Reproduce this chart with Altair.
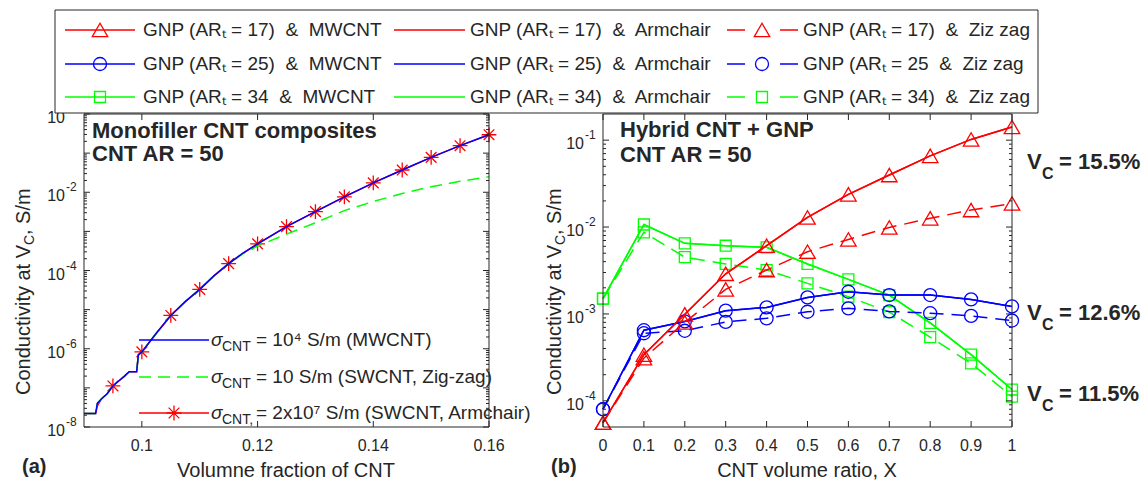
import altair as alt
import pandas as pd

FONT = "Liberation Sans"
INK = "#262626"
RED, BLUE, GREEN = "#ff0000", "#0000ff", "#00ff00"
ASTERISK = "M-1,0L1,0M0,-1L0,1M-0.72,-0.72L0.72,0.72M-0.72,0.72L0.72,-0.72"

# ---------------- panel (a): monofiller CNT composites ----------------
vf = [0.0900, 0.0920, 0.0923, 0.0930, 0.0940, 0.0950, 0.0960, 0.0970, 0.0978,
      0.0991, 0.0994, 0.1000, 0.1025, 0.1050, 0.1075, 0.1100, 0.1125, 0.1150,
      0.1175, 0.1200, 0.1250, 0.1300, 0.1350, 0.1400, 0.1450, 0.1500, 0.1550, 0.1600]
sig_mwcnt = [2.2e-8, 2.2e-8, 4.0e-8, 5.2e-8, 7.1e-8, 1.12e-7, 1.5e-7, 2.0e-7, 2.6e-7,
             2.6e-7, 7.1e-7, 8.3e-7, 2.5e-6, 7.1e-6, 1.6e-5, 3.3e-5, 7.4e-5, 1.5e-4,
             2.8e-4, 4.8e-4, 1.32e-3, 3.2e-3, 7.6e-3, 1.74e-2, 3.7e-2, 7.8e-2, 0.155, 0.295]
sig_armchair = [2.2e-8, 2.2e-8, 3.4e-8, 5.2e-8, 7.1e-8, 1.12e-7, 1.5e-7, 2.0e-7, 2.6e-7,
                2.6e-7, 7.1e-7, 8.3e-7, 2.5e-6, 7.1e-6, 1.6e-5, 3.3e-5, 7.4e-5, 1.5e-4,
                2.8e-4, 4.8e-4, 1.32e-3, 3.2e-3, 7.6e-3, 1.74e-2, 3.7e-2, 7.8e-2, 0.155, 0.295]
sig_zigzag = [2.2e-8, 2.2e-8, 4.0e-8, 5.2e-8, 7.1e-8, 1.12e-7, 1.5e-7, 2.0e-7, 2.6e-7,
              2.6e-7, 7.1e-7, 8.3e-7, 2.5e-6, 7.1e-6, 1.6e-5, 3.3e-5, 7.4e-5, 1.5e-4,
              2.7e-4, 4.2e-4, 8.5e-4, 1.66e-3, 3.4e-3, 5.8e-3, 9.3e-3, 1.38e-2, 1.9e-2, 2.5e-2]
vf_star = [0.095, 0.100, 0.105, 0.110, 0.115, 0.120, 0.125,
           0.130, 0.135, 0.140, 0.145, 0.150, 0.155, 0.160]

# ---------------- panel (b): hybrid CNT + GNP ----------------
x_ratio = [0.0, 0.1, 0.2, 0.3, 0.4, 0.5, 0.6, 0.7, 0.8, 0.9, 1.0]
g17_mwcnt = [5.6e-5, 3.4e-4, 9.9e-4, 2.9e-3, 6.1e-3, 1.29e-2, 2.38e-2, 3.97e-2, 6.6e-2, 1.02e-1, 1.42e-1]
g17_armchair = [5.6e-5, 3.4e-4, 9.9e-4, 2.9e-3, 6.1e-3, 1.29e-2, 2.38e-2, 3.97e-2, 6.6e-2, 1.02e-1, 1.42e-1]
g17_zigzag = [5.6e-5, 3.1e-4, 8.0e-4, 1.92e-3, 3.2e-3, 5.2e-3, 7.2e-3, 9.9e-3, 1.26e-2, 1.57e-2, 1.87e-2]
g25_mwcnt = [8.0e-5, 6.5e-4, 8.2e-4, 1.09e-3, 1.19e-3, 1.55e-3, 1.8e-3, 1.65e-3, 1.65e-3, 1.47e-3, 1.22e-3]
g25_armchair = [8.0e-5, 6.5e-4, 8.2e-4, 1.09e-3, 1.19e-3, 1.55e-3, 1.8e-3, 1.65e-3, 1.65e-3, 1.47e-3, 1.22e-3]
g25_zigzag = [8.0e-5, 6.0e-4, 6.4e-4, 8.1e-4, 8.9e-4, 1.06e-3, 1.16e-3, 1.07e-3, 1.02e-3, 9.5e-4, 8.4e-4]
g34_mwcnt = [1.5e-3, 1.07e-2, 6.5e-3, 6.1e-3, 5.85e-3, 3.76e-3, 2.5e-3, 1.65e-3, 7.9e-4, 3.4e-4, 1.35e-4]
g34_armchair = [1.5e-3, 1.07e-2, 6.5e-3, 6.1e-3, 5.85e-3, 3.76e-3, 2.5e-3, 1.65e-3, 7.9e-4, 3.4e-4, 1.35e-4]
g34_zigzag = [1.5e-3, 8.7e-3, 4.5e-3, 3.76e-3, 3.2e-3, 2.25e-3, 1.58e-3, 1.05e-3, 5.4e-4, 2.7e-4, 1.12e-4]

# ---------------- axes ----------------
a_xticks = [0.10, 0.12, 0.14, 0.16]
a_xlabels = ["0.1", "0.12", "0.14", "0.16"]
a_yticks = [1e-8, 1e-7, 1e-6, 1e-5, 1e-4, 1e-3, 1e-2, 1e-1, 1e0]
a_ylabel_vals = [1e-8, 1e-6, 1e-4, 1e-2, 1e0]
a_yexps = ["-8", "-6", "-4", "-2", "0"]
b_xticks = [0.0, 0.1, 0.2, 0.3, 0.4, 0.5, 0.6, 0.7, 0.8, 0.9, 1.0]
b_xlabels = ["0", "0.1", "0.2", "0.3", "0.4", "0.5", "0.6", "0.7", "0.8", "0.9", "1"]
b_yticks = [1e-4, 1e-3, 1e-2, 1e-1]
b_yexps = ["-4", "-3", "-2", "-1"]


def log_minor(lo, hi):
    out = []
    for e in range(-9, 1):
        for m in range(2, 10):
            v = m * 10.0 ** e
            if lo < v < hi:
                out.append(v)
    return out


xa = alt.Scale(domain=[0.09, 0.16], range=[84, 489], nice=False, zero=False)
ya = alt.Scale(type="log", domain=[1e-8, 1.0], range=[427, 114], nice=False)
xb = alt.Scale(domain=[0.0, 1.0], range=[603, 1012], nice=False, zero=False)
yb = alt.Scale(type="log", domain=[5e-5, 0.2], range=[427, 114], nice=False)

one = pd.DataFrame({"a": [0]})


def line(xs, ys, color, xs_, ys_, dash=None, width=1.5):
    kw = dict(color=color, strokeWidth=width)
    if dash:
        kw["strokeDash"] = dash
    return alt.Chart(pd.DataFrame({"x": xs, "y": ys})).mark_line(**kw).encode(
        x=alt.X("x:Q", scale=xs_, axis=None),
        y=alt.Y("y:Q", scale=ys_, axis=None))


def markers(xs, ys, color, shape, size, xs_, ys_):
    return alt.Chart(pd.DataFrame({"x": xs, "y": ys})).mark_point(
        shape=shape, size=size, color=color, filled=False, strokeWidth=1.3, opacity=1
    ).encode(x=alt.X("x:Q", scale=xs_, axis=None), y=alt.Y("y:Q", scale=ys_, axis=None))


def frame(xs_, ys_, xdom, ydom, xticks, xlabels, ymajor, ylabel_vals, yexps, yminor):
    layers = [alt.Chart(one).mark_rect(fillOpacity=0, stroke=INK, strokeWidth=1).encode(
        x=alt.XDatum(xdom[0], scale=xs_, axis=None), x2=alt.datum(xdom[1]),
        y=alt.YDatum(ydom[0], scale=ys_, axis=None), y2=alt.datum(ydom[1]))]
    xt = pd.DataFrame({"v": xticks})
    for yd, off in ((ydom[0], -6), (ydom[1], 6)):
        layers.append(alt.Chart(xt).mark_rule(color=INK, strokeWidth=1, y2Offset=off).encode(
            x=alt.X("v:Q", scale=xs_, axis=None),
            y=alt.YDatum(yd, axis=None), y2=alt.datum(yd)))
    for vals, ln in ((ymajor, 6), (yminor, 3)):
        yt = pd.DataFrame({"v": vals})
        for xd, off in ((xdom[0], ln), (xdom[1], -ln)):
            layers.append(alt.Chart(yt).mark_rule(color=INK, strokeWidth=1, x2Offset=off).encode(
                y=alt.Y("v:Q", scale=ys_, axis=None),
                x=alt.XDatum(xd, axis=None), x2=alt.datum(xd)))
    layers.append(alt.Chart(pd.DataFrame({"v": xticks, "lab": xlabels})).mark_text(
        font=FONT, fontSize=16, color=INK, baseline="middle", dy=19).encode(
        x=alt.X("v:Q", scale=xs_, axis=None), y=alt.YDatum(ydom[0], axis=None), text="lab:N"))
    # log labels: "10" with a raised exponent
    yl = pd.DataFrame({"v": ylabel_vals, "e": yexps})
    layers.append(alt.Chart(yl).mark_text(
        font=FONT, fontSize=16, color=INK, align="right", baseline="middle", dx=-19, dy=4, text="10").encode(
        y=alt.Y("v:Q", scale=ys_, axis=None), x=alt.XDatum(xdom[0], axis=None)))
    layers.append(alt.Chart(yl).mark_text(
        font=FONT, fontSize=12, color=INK, align="left", baseline="middle", dx=-18, dy=-5).encode(
        y=alt.Y("v:Q", scale=ys_, axis=None), x=alt.XDatum(xdom[0], axis=None), text="e:N"))
    return layers


def txt(s, x, y, size, bold=False, italic=False, align="left", angle=None, dx=0, dy=0, color=INK):
    kw = dict(font=FONT, fontSize=size, color=color, align=align, baseline="middle",
              fontWeight="bold" if bold else "normal", dx=dx, dy=dy)
    if italic:
        kw["fontStyle"] = "italic"
    if angle is not None:
        kw["angle"] = angle
    return alt.Chart(one).mark_text(text=s, **kw).encode(x=alt.value(x), y=alt.value(y))


def y_title(x):
    # rotated "Conductivity at V_C, S/m" built from three runs
    return [
        txt("Conductivity at V", x, 395, 20, angle=270),
        txt("C", x, 395, 14, angle=270, dx=150, dy=6),
        txt(", S/m", x, 395, 20, angle=270, dx=160),
    ]


# ---------------- assemble panel (a) ----------------
star_df = pd.DataFrame({"x": vf, "y": sig_armchair})
star_df = star_df[star_df["x"].round(4).isin([round(v, 4) for v in vf_star])]

panel_a = alt.layer(
    line(vf, sig_armchair, RED, xa, ya),
    markers(star_df["x"].tolist(), star_df["y"].tolist(), RED, ASTERISK, 220, xa, ya),
    line(vf, sig_zigzag, GREEN, xa, ya, dash=[12, 7]),
    line(vf, sig_mwcnt, BLUE, xa, ya),
    *frame(xa, ya, [0.09, 0.16], [1e-8, 1.0], a_xticks, a_xlabels, a_yticks,
           a_ylabel_vals, a_yexps, log_minor(1e-8, 1.0)),
    txt("Monofiller CNT composites", 92, 131, 22, bold=True),
    txt("CNT AR = 50", 92, 154, 22, bold=True),
    txt("Volumne fraction of CNT", 286, 471, 20, align="center"),
    txt("(a)", 22, 467, 20, bold=True),
    *y_title(24),
    # in-panel key
    alt.Chart(pd.DataFrame({"x0": [139, 139, 139], "x1": [209, 209, 209], "y": [340, 377, 413],
                            "c": [BLUE, GREEN, RED], "d": [0, 1, 0]})).mark_rule(strokeWidth=1.5).encode(
        x=alt.X("x0:Q", scale=None), x2="x1:Q", y=alt.Y("y:Q", scale=None),
        color=alt.Color("c:N", scale=None),
        strokeDash=alt.condition("datum.d == 1", alt.value([12, 7]), alt.value([1, 0]))),
    alt.Chart(pd.DataFrame({"x": [174], "y": [413]})).mark_point(
        shape=ASTERISK, size=220, color=RED, filled=False, strokeWidth=1.3, opacity=1).encode(
        x=alt.X("x:Q", scale=None), y=alt.Y("y:Q", scale=None)),
    txt("σ", 211, 340, 19, italic=True), txt("CNT", 222, 340, 14, dy=7),
    txt("= 10⁴ S/m (MWCNT)", 256, 340, 19),
    txt("σ", 211, 377, 19, italic=True), txt("CNT", 222, 377, 14, dy=7),
    txt("= 10 S/m (SWCNT, Zig-zag)", 256, 377, 19),
    txt("σ", 211, 413, 19, italic=True), txt("CNT,", 222, 413, 14, dy=7),
    txt("= 2x10⁷ S/m (SWCNT, Armchair)", 256, 413, 19),
)

# ---------------- assemble panel (b) ----------------
sq, ci, tri = "square", "circle", "triangle-up"
panel_b = alt.layer(
    line(x_ratio, g34_armchair, GREEN, xb, yb),
    line(x_ratio, g25_armchair, BLUE, xb, yb),
    line(x_ratio, g17_armchair, RED, xb, yb),
    line(x_ratio, g34_zigzag, GREEN, xb, yb, dash=[14, 8]),
    markers(x_ratio, g34_zigzag, GREEN, sq, 120, xb, yb),
    line(x_ratio, g34_mwcnt, GREEN, xb, yb),
    markers(x_ratio, g34_mwcnt, GREEN, sq, 120, xb, yb),
    line(x_ratio, g25_zigzag, BLUE, xb, yb, dash=[14, 8]),
    markers(x_ratio, g25_zigzag, BLUE, ci, 170, xb, yb),
    line(x_ratio, g25_mwcnt, BLUE, xb, yb),
    markers(x_ratio, g25_mwcnt, BLUE, ci, 170, xb, yb),
    line(x_ratio, g17_zigzag, RED, xb, yb, dash=[14, 8]),
    markers(x_ratio, g17_zigzag, RED, tri, 240, xb, yb),
    line(x_ratio, g17_mwcnt, RED, xb, yb),
    markers(x_ratio, g17_mwcnt, RED, tri, 240, xb, yb),
    *frame(xb, yb, [0.0, 1.0], [5e-5, 0.2], b_xticks, b_xlabels, b_yticks,
           b_yticks, b_yexps, log_minor(5e-5, 0.2)),
    txt("Hybrid CNT + GNP", 620, 130, 22, bold=True),
    txt("CNT AR = 50", 620, 155, 22, bold=True),
    txt("CNT volume ratio, X", 807, 471, 20, align="center"),
    txt("(b)", 551, 467, 20, bold=True),
    *y_title(555),
    txt("V", 1027, 162, 22, bold=True), txt("C", 1042, 174, 16, bold=True),
    txt("= 15.5%", 1059, 162, 22, bold=True),
    txt("V", 1027, 313, 22, bold=True), txt("C", 1042, 325, 16, bold=True),
    txt("= 12.6%", 1059, 313, 22, bold=True),
    txt("V", 1027, 394, 22, bold=True), txt("C", 1042, 406, 16, bold=True),
    txt("= 11.5%", 1059, 394, 22, bold=True),
)

# ---------------- shared key across the top ----------------
rows = [30, 64, 97]
row_colors = [RED, BLUE, GREEN]
row_shapes = [tri, ci, sq]
row_sizes = [240, 170, 120]
col1_labels = ["GNP (ARₜ = 17)\u00a0 &\u00a0 MWCNT", "GNP (ARₜ = 25)\u00a0 &\u00a0 MWCNT",
               "GNP (ARₜ = 34\u00a0 &\u00a0 MWCNT"]
col2_labels = ["GNP (ARₜ = 17)\u00a0 &\u00a0 Armchair", "GNP (ARₜ = 25)\u00a0 &\u00a0 Armchair",
               "GNP (ARₜ = 34)\u00a0 &\u00a0 Armchair"]
col3_labels = ["GNP (ARₜ = 17)\u00a0 &\u00a0 Ziz zag", "GNP (ARₜ = 25\u00a0 &\u00a0 Ziz zag",
               "GNP (ARₜ = 34)\u00a0 &\u00a0 Ziz zag"]

key_lines = pd.DataFrame({
    "x0": [65] * 3 + [394] * 3 + [727] * 3,
    "x1": [135] * 3 + [465] * 3 + [798] * 3,
    "y": rows * 3, "c": row_colors * 3, "d": [0] * 6 + [1] * 3})
key_marks = pd.DataFrame({
    "x": [100] * 3 + [762] * 3, "y": rows * 2, "c": row_colors * 2,
    "s": row_shapes * 2, "z": row_sizes * 2})
key_text = pd.DataFrame({
    "x": [143] * 3 + [470] * 3 + [803] * 3, "y": rows * 3,
    "t": col1_labels + col2_labels + col3_labels})

legend = alt.layer(
    alt.Chart(one).mark_rect(fill="white", stroke=INK, strokeWidth=1).encode(
        x=alt.value(55), x2=alt.value(1038), y=alt.value(10), y2=alt.value(113)),
    alt.Chart(key_lines).mark_rule(strokeWidth=1.5).encode(
        x=alt.X("x0:Q", scale=None), x2="x1:Q", y=alt.Y("y:Q", scale=None),
        color=alt.Color("c:N", scale=None),
        strokeDash=alt.condition("datum.d == 1", alt.value([18, 35]), alt.value([1, 0]))),
    alt.Chart(key_marks).mark_point(filled=False, strokeWidth=1.3, opacity=1).encode(
        x=alt.X("x:Q", scale=None), y=alt.Y("y:Q", scale=None),
        color=alt.Color("c:N", scale=None), shape=alt.Shape("s:N", scale=None),
        size=alt.Size("z:Q", scale=None)),
    alt.Chart(key_text).mark_text(font=FONT, fontSize=19, color=INK, align="left",
                                  baseline="middle").encode(
        x=alt.X("x:Q", scale=None), y=alt.Y("y:Q", scale=None), text="t:N"),
)

chart = alt.layer(panel_a, panel_b, legend).resolve_scale(
    x="independent", y="independent"
).properties(
    width=1144, height=484, padding=0,
    autosize=alt.AutoSizeParams(type="none"), background="white",
).configure_view(strokeWidth=0)

chart.save("out.html", embed_options={"renderer": "svg", "actions": False})
